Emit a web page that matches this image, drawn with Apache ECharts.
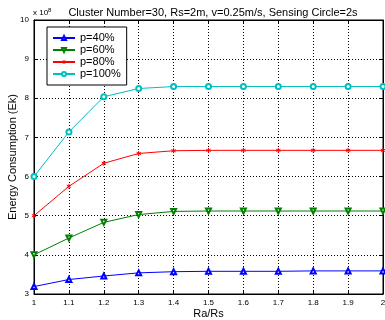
<!DOCTYPE html>
<html>
<head>
<meta charset="utf-8">
<script src="https://cdn.jsdelivr.net/npm/echarts@6/dist/echarts.min.js"></script>
<style>html,body{margin:0;padding:0;background:#fff}#c{width:385px;height:320px}</style>
</head>
<body>
<div id="c"></div>
<script>
const xVals = [1, 1.1, 1.2, 1.3, 1.4, 1.5, 1.6, 1.7, 1.8, 1.9, 2];
const p40 = [3.19, 3.37, 3.46, 3.54, 3.57, 3.58, 3.58, 3.58, 3.59, 3.59, 3.59];
const p60 = [4.0, 4.43, 4.83, 5.03, 5.11, 5.12, 5.12, 5.12, 5.12, 5.12, 5.12];
const p80 = [5.0, 5.75, 6.34, 6.59, 6.66, 6.67, 6.67, 6.67, 6.67, 6.67, 6.67];
const p100 = [6.0, 7.14, 8.04, 8.25, 8.30, 8.30, 8.30, 8.30, 8.30, 8.30, 8.30];
const seriesNames = ['p=40%', 'p=60%', 'p=80%', 'p=100%'];
const titleText = 'Cluster Number=30, Rs=2m, v=0.25m/s, Sensing Circle=2s';
const xName = 'Ra/Rs';
const yName = 'Energy Consumption (Ek)';

const font = 'Liberation Sans, Arial, sans-serif';
const star = 'path://M0,-5L0,5M-4.33,-2.5L4.33,2.5M-4.33,2.5L4.33,-2.5M-0.3,-0.3L0.3,0.3';
const defs = [
  {data: p40, color: '#0000ff', symbol: 'emptyTriangle', rot: 0},
  {data: p60, color: '#008000', symbol: 'emptyTriangle', rot: 180},
  {data: p80, color: '#ff0000', symbol: star, rot: 0},
  {data: p100, color: '#00bfbf', symbol: 'emptyCircle', rot: 0}
];
const chart = echarts.init(document.getElementById('c'));
const axisCommon = {
  axisLine: {show: true, lineStyle: {color: '#000', width: 1}},
  axisTick: {show: true, inside: true, length: 4, lineStyle: {color: '#000'}},
};
chart.setOption({
  animation: false,
  backgroundColor: '#fff',
  textStyle: {fontFamily: font},
  title: {
    text: titleText, left: 208, top: 2, textAlign: 'center',
    textStyle: {fontSize: 11, fontWeight: 'normal', color: '#000', fontFamily: font}
  },
  graphic: [{
    type: 'text', left: 33, top: 7,
    style: {text: 'x 10{s|8}', fill: '#000', font: '8px ' + font,
      rich: {s: {fontSize: 6, verticalAlign: 'top', padding: [0, 0, 5, 0]}}}
  }],
  grid: {left: 34, right: 2, top: 20, bottom: 26, outerBoundsMode: 'none', containLabel: false,
    show: true, borderColor: '#000', borderWidth: 1, backgroundColor: '#fff'},
  legend: {
    orient: 'vertical', left: 47, top: 27,
    data: seriesNames,
    backgroundColor: '#fff', borderColor: '#000', borderWidth: 1,
    padding: [5, 6, 5, 5], itemGap: 0, itemWidth: 22, itemHeight: 5,
    itemStyle: {borderWidth: 1},
    textStyle: {fontSize: 11, lineHeight: 12, color: '#000', fontFamily: font}
  },
  xAxis: [{
    type: 'value', min: 1, max: 2, interval: 0.1,
    name: xName, nameLocation: 'middle', nameGap: 14, nameMoveOverlap: false,
    nameTextStyle: {fontSize: 11, color: '#000'},
    axisLabel: {fontSize: 8, color: '#000', margin: 5, formatter: v => String(Math.round(v * 10) / 10)},
    splitLine: {show: true, lineStyle: {color: '#000', type: [1, 2], width: 1}},
    ...axisCommon
  }, {
    type: 'value', min: 1, max: 2, interval: 0.1, position: 'top',
    axisLabel: {show: false}, splitLine: {show: false}, ...axisCommon
  }],
  yAxis: [{
    type: 'value', min: 3, max: 10, interval: 1,
    name: yName, nameLocation: 'middle', nameGap: 16, nameMoveOverlap: false,
    nameTextStyle: {fontSize: 11, color: '#000'},
    axisLabel: {fontSize: 8, color: '#000', margin: 5},
    splitLine: {show: true, lineStyle: {color: '#000', type: [1, 2], width: 1}},
    ...axisCommon
  }, {
    type: 'value', min: 3, max: 10, interval: 1, position: 'right',
    axisLabel: {show: false}, splitLine: {show: false}, ...axisCommon
  }],
  series: defs.map((d, i) => ({
    name: seriesNames[i], type: 'line',
    data: xVals.map((x, j) => [x, d.data[j]]),
    symbol: d.symbol, symbolSize: 5, symbolRotate: d.rot, symbolKeepAspect: true,
    showAllSymbol: true,
    lineStyle: {color: d.color, width: 1},
    itemStyle: {color: d.color, borderColor: d.color, borderWidth: 1},
    emphasis: {disabled: true},
    z: 3
  }))
});
</script>
</body>
</html>
